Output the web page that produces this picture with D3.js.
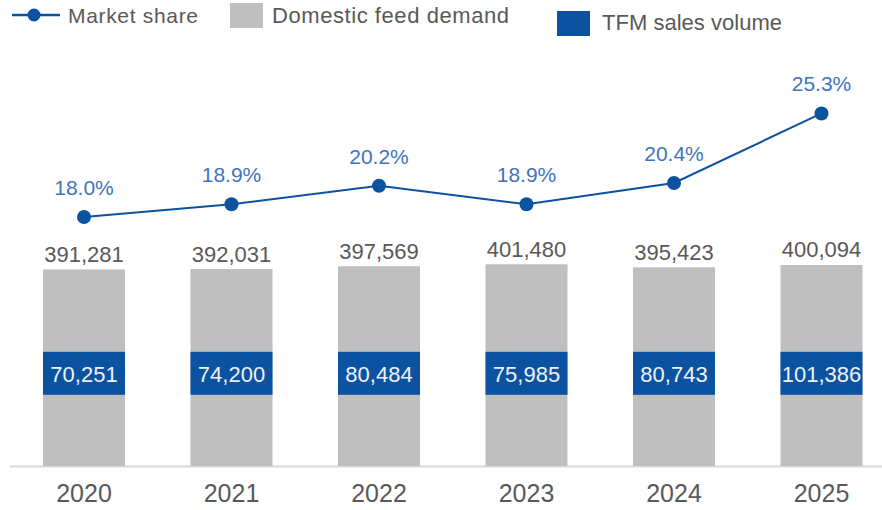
<!DOCTYPE html>
<html>
<head>
<meta charset="utf-8">
<script src="https://cdn.jsdelivr.net/npm/d3@7"></script>
<style>
  html, body { margin: 0; padding: 0; background: #ffffff; }
  svg { display: block; font-family: "Liberation Sans", Arial, sans-serif; }
</style>
</head>
<body>
<svg id="chart" width="882" height="510"></svg>
<script>
// ---- data ----
const years = ["2020", "2021", "2022", "2023", "2024", "2025"];
const domesticFeedDemand = [391281, 392031, 397569, 401480, 395423, 400094];
const tfmSalesVolume = [70251, 74200, 80484, 75985, 80743, 101386];
const marketShare = [18.0, 18.9, 20.2, 18.9, 20.4, 25.3];
const legendLabels = ["Market share", "Domestic feed demand", "TFM sales volume"];

// ---- styles ----
const BLUE = "#0b52a0";
const LABEL_BLUE = "#3f74bd";
const GRAY_BAR = "#bfbfbf";
const TEXT_GRAY = "#595959";

const svg = d3.select("#chart");

const x = d3.scalePoint().domain(years).range([84, 821.5]).padding(0);
const barW = 82;
const baseline = 466;
const yBar = d3.scaleLinear().domain([0, 500000]).range([baseline, baseline - 251.2]);
const yShare = d3.scaleLinear().domain([0, 25]).range([472.2, 117.7]);

const fmt = d3.format(",");

// axis baseline
svg.append("line")
  .attr("x1", 10).attr("x2", 882)
  .attr("y1", baseline + 0.5).attr("y2", baseline + 0.5)
  .attr("stroke", "#d9d9d9").attr("stroke-width", 2);

// gray bars
svg.append("g").selectAll("rect")
  .data(years)
  .join("rect")
  .attr("x", d => x(d) - barW / 2)
  .attr("width", barW)
  .attr("y", (d, i) => yBar(domesticFeedDemand[i]))
  .attr("height", (d, i) => baseline - yBar(domesticFeedDemand[i]))
  .attr("fill", GRAY_BAR);

// bar value labels
svg.append("g").selectAll("text")
  .data(years)
  .join("text")
  .attr("x", d => x(d))
  .attr("y", (d, i) => yBar(domesticFeedDemand[i]) - 15)
  .attr("text-anchor", "middle")
  .attr("dominant-baseline", "central")
  .attr("font-size", 22)
  .attr("fill", TEXT_GRAY)
  .text((d, i) => fmt(domesticFeedDemand[i]));

// TFM sales volume boxes
const boxH = 43, boxCY = 373.3;
const tfm = svg.append("g");
tfm.selectAll("rect")
  .data(years)
  .join("rect")
  .attr("x", d => x(d) - barW / 2)
  .attr("width", barW)
  .attr("y", boxCY - boxH / 2)
  .attr("height", boxH)
  .attr("fill", BLUE);
tfm.selectAll("text")
  .data(years)
  .join("text")
  .attr("x", d => x(d))
  .attr("y", boxCY + 1)
  .attr("text-anchor", "middle")
  .attr("dominant-baseline", "central")
  .attr("font-size", 22)
  .attr("fill", "#eef2f8")
  .text((d, i) => fmt(tfmSalesVolume[i]));

// market share line
const line = d3.line()
  .x((d, i) => x(years[i]))
  .y(d => yShare(d));
svg.append("path")
  .datum(marketShare)
  .attr("d", line)
  .attr("fill", "none")
  .attr("stroke", BLUE)
  .attr("stroke-width", 2);

svg.append("g").selectAll("circle")
  .data(marketShare)
  .join("circle")
  .attr("cx", (d, i) => x(years[i]))
  .attr("cy", d => yShare(d))
  .attr("r", 7)
  .attr("fill", BLUE);

svg.append("g").selectAll("text")
  .data(marketShare)
  .join("text")
  .attr("x", (d, i) => x(years[i]))
  .attr("y", d => yShare(d) - 29.5)
  .attr("text-anchor", "middle")
  .attr("dominant-baseline", "central")
  .attr("font-size", 21)
  .attr("fill", LABEL_BLUE)
  .text(d => d.toFixed(1) + "%");

// x-axis year labels
svg.append("g").selectAll("text")
  .data(years)
  .join("text")
  .attr("x", d => x(d))
  .attr("y", 493)
  .attr("text-anchor", "middle")
  .attr("dominant-baseline", "central")
  .attr("font-size", 25)
  .attr("fill", TEXT_GRAY)
  .text(d => d);

// ---- legend ----
const lg = svg.append("g");
lg.append("line")
  .attr("x1", 12).attr("x2", 60).attr("y1", 15).attr("y2", 15)
  .attr("stroke", BLUE).attr("stroke-width", 2.5);
lg.append("circle").attr("cx", 34).attr("cy", 15).attr("r", 6.5).attr("fill", BLUE);
lg.append("text")
  .attr("x", 68).attr("y", 15)
  .attr("dominant-baseline", "central")
  .attr("font-size", 21)
  .attr("fill", TEXT_GRAY)
  .attr("textLength", 130)
  .text(legendLabels[0]);

lg.append("rect").attr("x", 230).attr("y", 3).attr("width", 33).attr("height", 25).attr("fill", GRAY_BAR);
lg.append("text")
  .attr("x", 272).attr("y", 15)
  .attr("dominant-baseline", "central")
  .attr("font-size", 22)
  .attr("fill", TEXT_GRAY)
  .attr("textLength", 237)
  .text(legendLabels[1]);

lg.append("rect").attr("x", 557).attr("y", 11).attr("width", 33).attr("height", 25).attr("fill", BLUE);
lg.append("text")
  .attr("x", 602).attr("y", 22)
  .attr("dominant-baseline", "central")
  .attr("font-size", 22)
  .attr("fill", TEXT_GRAY)
  .attr("textLength", 180)
  .text(legendLabels[2]);
</script>
</body>
</html>
